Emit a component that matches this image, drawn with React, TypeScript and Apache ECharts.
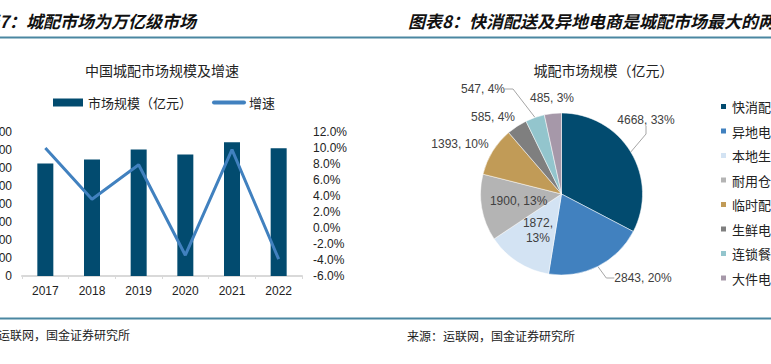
import React, { useEffect, useRef } from 'react';
import * as echarts from 'echarts';

// ---------- data ----------
const years = ['2017', '2018', '2019', '2020', '2021', '2022'];
const marketSize = [12500, 12950, 14050, 13500, 14850, 14200]; // 亿元
const growthRate = [10.0, 3.6, 7.9, -3.4, 9.8, -3.9]; // %
const sizeAxis = { min: 0, max: 16000, interval: 2000 };
const rateAxis = { min: -6, max: 12, interval: 2 };

const segNames = ['快消配送', '异地电商', '本地生活', '耐用仓配', '临时配送', '生鲜电商', '连锁餐饮', '大件电商'];
const segValues = [4668, 2843, 1872, 1900, 1393, 585, 547, 485];

// ---------- styles ----------
const segColors = ['#024B6F', '#4181BF', '#D3E3F3', '#B4B4B4', '#C19B57', '#7F7F7F', '#93C5CD', '#A698A9'];
// label placement for pie labels (centres), and whether they have a leader line
const pieLabelPos: ([number, number] | null)[] = [
  [646, 120], [643, 278], null, null, [460, 144], [493, 117], [483, 89], [552, 98],
];
const pieLabelLine = [true, true, false, false, false, false, true, false];
const pieLabelInside = [false, false, true, true, false, false, false, false];

const CJK = '"Noto Sans CJK SC", sans-serif';
const LAT = '"Liberation Sans", Arial, sans-serif';
const RULE = '#4B87A1';

export default function App() {
  const ref = useRef<HTMLDivElement>(null);
  useEffect(() => {
    if (!ref.current) return;
    const chart = echarts.init(ref.current, null, { renderer: 'svg' });
    const option: any = {
      animation: false,
      backgroundColor: '#ffffff',
      graphic: [
        { type: 'line', shape: { x1: 0, y1: 37.5, x2: 771, y2: 37.5 }, style: { stroke: RULE, lineWidth: 2 } },
        { type: 'line', shape: { x1: 0, y1: 318.5, x2: 771, y2: 318.5 }, style: { stroke: RULE, lineWidth: 2 } },
        { type: 'text', x: 196, y: 20, style: { text: '图表7：城配市场为万亿级市场', align: 'right', verticalAlign: 'middle', font: 'italic bold 17px ' + CJK, fill: '#111' } },
        { type: 'text', x: 408, y: 20, style: { text: '图表8：快消配送及异地电商是城配市场最大的两个细分市场', align: 'left', verticalAlign: 'middle', font: 'italic bold 17px ' + CJK, fill: '#111' } },
        { type: 'text', x: 162, y: 70, style: { text: '中国城配市场规模及增速', align: 'center', verticalAlign: 'middle', font: '14px ' + CJK, fill: '#222' } },
        { type: 'text', x: 603.5, y: 70, style: { text: '城配市场规模（亿元）', align: 'center', verticalAlign: 'middle', font: '14px ' + CJK, fill: '#222' } },
        { type: 'text', x: 130, y: 334, style: { text: '来源：运联网，国金证券研究所', align: 'right', verticalAlign: 'middle', font: '12px ' + CJK, fill: '#222' } },
        { type: 'text', x: 407, y: 335, style: { text: '来源：运联网，国金证券研究所', align: 'left', verticalAlign: 'middle', font: '12px ' + CJK, fill: '#222' } },
      ],
      legend: [
        {
          data: [
            { name: '市场规模（亿元）', icon: 'rect' },
            { name: '增速', itemStyle: { opacity: 0 }, lineStyle: { width: 4, color: '#4181BF', cap: 'round' } },
          ],
          left: 53, top: 96, padding: 0,
          itemWidth: 30, itemHeight: 8, itemGap: 20,
          textStyle: { fontSize: 13, color: '#222', fontFamily: CJK },
        },
        {
          data: segNames,
          orient: 'vertical',
          left: 719, top: 100, padding: 0,
          itemWidth: 7, itemHeight: 7, itemGap: 11.5,
          icon: 'rect',
          textStyle: { fontSize: 13, color: '#222', fontFamily: CJK, lineHeight: 13 },
        },
      ],
      grid: [{ left: 22, top: 132, width: 280, height: 144, outerBoundsMode: 'none', containLabel: false }],
      xAxis: [{
        type: 'category', data: years, gridIndex: 0,
        axisLine: { lineStyle: { color: '#D9D9D9', width: 2 } },
        axisTick: { show: true, length: 3, lineStyle: { color: '#D9D9D9' } },
        axisLabel: { fontSize: 12, color: '#222', fontFamily: LAT, margin: 9 },
      }],
      yAxis: [
        {
          type: 'value', gridIndex: 0, ...sizeAxis,
          axisLine: { show: false }, axisTick: { show: false }, splitLine: { show: false },
          axisLabel: { fontSize: 12, color: '#222', fontFamily: LAT, margin: 10, formatter: (v: number) => String(v) },
        },
        {
          type: 'value', gridIndex: 0, position: 'right', ...rateAxis,
          axisLine: { show: false }, axisTick: { show: false }, splitLine: { show: false },
          axisLabel: { fontSize: 12, color: '#222', fontFamily: LAT, margin: 11, formatter: (v: number) => v.toFixed(1) + '%' },
        },
      ],
      series: [
        {
          name: '市场规模（亿元）', type: 'bar', data: marketSize, barWidth: 16,
          itemStyle: { color: '#024B6F' },
        },
        {
          name: '增速', type: 'line', yAxisIndex: 1, data: growthRate, symbol: 'none',
          lineStyle: { color: '#4181BF', width: 3 }, itemStyle: { color: '#4181BF' },
        },
        {
          name: '城配市场规模', type: 'pie', center: [561.5, 194], radius: 81,
          startAngle: 90, clockwise: true, percentPrecision: 0,
          itemStyle: { borderColor: '#fff', borderWidth: 0.5 },
          label: { formatter: '{c}, {d}%', fontSize: 12, color: '#404040', fontFamily: LAT },
          labelLine: { lineStyle: { color: '#A6A6A6', width: 1 }, length: 8, length2: 8 },
          labelLayout: (p: any) => {
            const pos = pieLabelPos[p.dataIndex];
            if (!pos) return {};
            return { x: pos[0], y: pos[1], align: 'center', verticalAlign: 'middle' };
          },
          data: segNames.map((n, i) => ({
            name: n, value: segValues[i],
            itemStyle: { color: segColors[i] },
            label: pieLabelInside[i]
              ? { position: 'inside', formatter: i === 2 ? '{c},\n{d}%' : '{c}, {d}%', lineHeight: 15 }
              : { position: 'outside' },
            labelLine: { show: pieLabelLine[i] },
          })),
        },
      ],
    };
    chart.setOption(option);
    return () => chart.dispose();
  }, []);
  return <div ref={ref} style={{ position: 'fixed', left: 0, top: 0, width: 771, height: 364 }} />;
}
